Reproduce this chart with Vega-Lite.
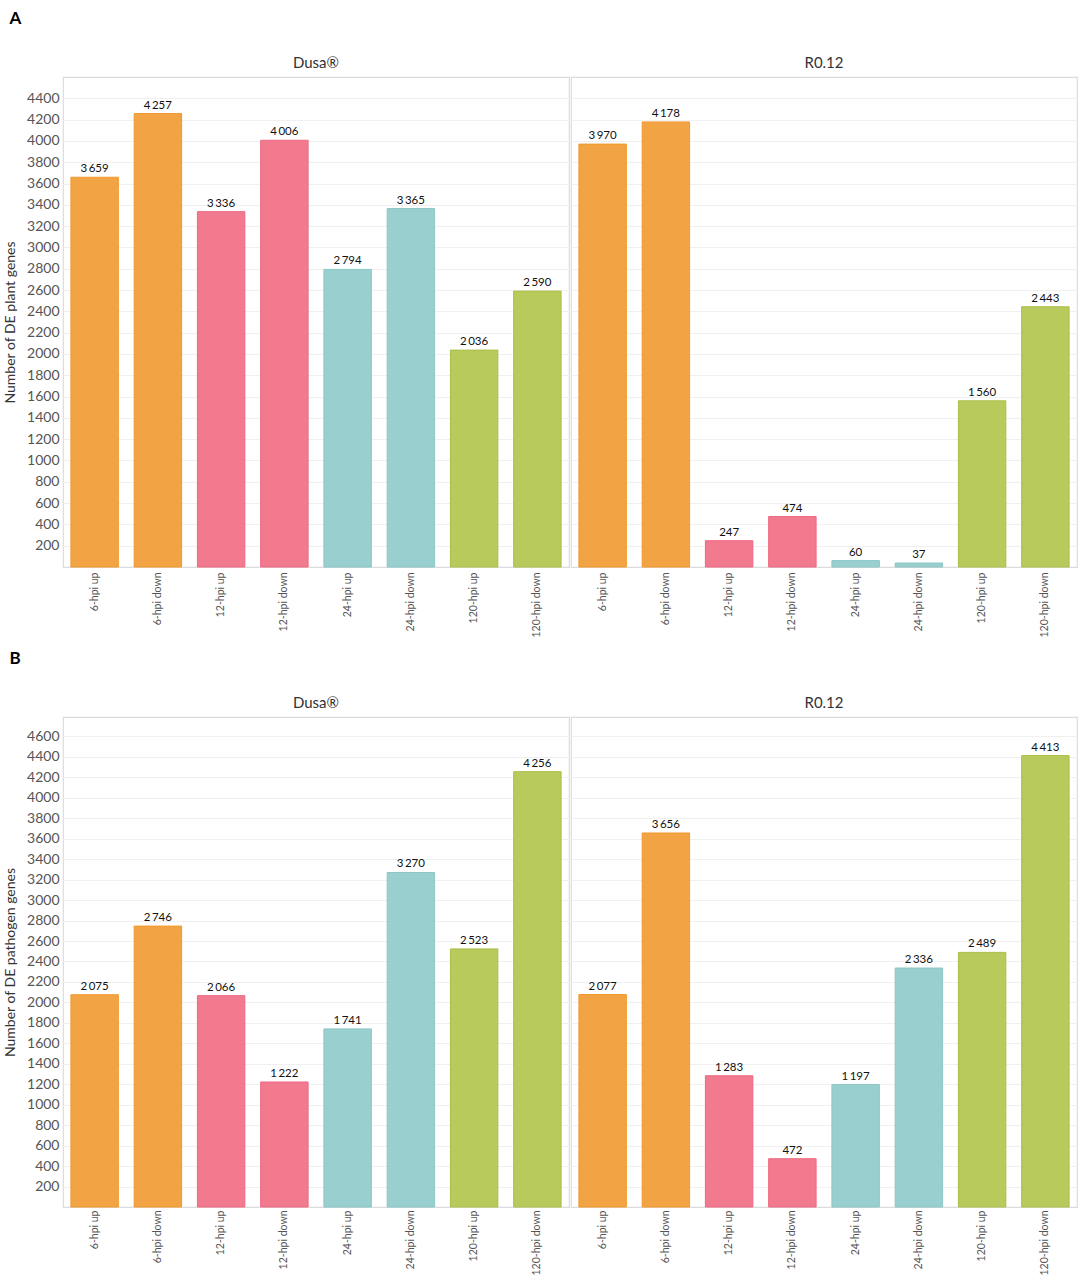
{
  "$schema": "https://vega.github.io/schema/vega-lite/v6.json",
  "padding": {"left": 3, "top": 10, "right": 5, "bottom": 0},
  "background": "white",
  "config": {
    "font": "Lato",
    "locale": {"number": {"decimal": ".", "thousands": "\u2009", "grouping": [3], "currency": ["", ""]}},
    "view": {"stroke": "#dcdcdc", "strokeWidth": 1.2},
    "facet": {"spacing": 0},
    "header": {"labelFontSize": 15, "labelColor": "#333", "labelPadding": 5, "labelFont": "Lato"},
    "axisY": {"labelFontSize": 14, "labelColor": "#555", "ticks": false, "domain": false, "gridColor": "#f0f0f0", "titleFontSize": 14, "titleFontWeight": "normal", "titleColor": "#333", "titlePadding": 9, "labelPadding": 3},
    "axisX": {"labelAngle": -90, "labelFontSize": 10.5, "labelColor": "#555", "ticks": false, "domain": false, "labelPadding": 5, "grid": false},
    "title": {"anchor": "start", "fontSize": 17, "fontWeight": "bold", "color": "#000", "frame": "bounds", "offset": 28, "dx": 6},
    "concat": {"spacing": 12}
  },
  "datasets": {
    "plant": [
      {"cultivar": "Dusa®", "sample": "6-hpi up", "time": "6-hpi", "genes": 3659},
      {"cultivar": "Dusa®", "sample": "6-hpi down", "time": "6-hpi", "genes": 4257},
      {"cultivar": "Dusa®", "sample": "12-hpi up", "time": "12-hpi", "genes": 3336},
      {"cultivar": "Dusa®", "sample": "12-hpi down", "time": "12-hpi", "genes": 4006},
      {"cultivar": "Dusa®", "sample": "24-hpi up", "time": "24-hpi", "genes": 2794},
      {"cultivar": "Dusa®", "sample": "24-hpi down", "time": "24-hpi", "genes": 3365},
      {"cultivar": "Dusa®", "sample": "120-hpi up", "time": "120-hpi", "genes": 2036},
      {"cultivar": "Dusa®", "sample": "120-hpi down", "time": "120-hpi", "genes": 2590},
      {"cultivar": "R0.12", "sample": "6-hpi up", "time": "6-hpi", "genes": 3970},
      {"cultivar": "R0.12", "sample": "6-hpi down", "time": "6-hpi", "genes": 4178},
      {"cultivar": "R0.12", "sample": "12-hpi up", "time": "12-hpi", "genes": 247},
      {"cultivar": "R0.12", "sample": "12-hpi down", "time": "12-hpi", "genes": 474},
      {"cultivar": "R0.12", "sample": "24-hpi up", "time": "24-hpi", "genes": 60},
      {"cultivar": "R0.12", "sample": "24-hpi down", "time": "24-hpi", "genes": 37},
      {"cultivar": "R0.12", "sample": "120-hpi up", "time": "120-hpi", "genes": 1560},
      {"cultivar": "R0.12", "sample": "120-hpi down", "time": "120-hpi", "genes": 2443}
    ],
    "pathogen": [
      {"cultivar": "Dusa®", "sample": "6-hpi up", "time": "6-hpi", "genes": 2075},
      {"cultivar": "Dusa®", "sample": "6-hpi down", "time": "6-hpi", "genes": 2746},
      {"cultivar": "Dusa®", "sample": "12-hpi up", "time": "12-hpi", "genes": 2066},
      {"cultivar": "Dusa®", "sample": "12-hpi down", "time": "12-hpi", "genes": 1222},
      {"cultivar": "Dusa®", "sample": "24-hpi up", "time": "24-hpi", "genes": 1741},
      {"cultivar": "Dusa®", "sample": "24-hpi down", "time": "24-hpi", "genes": 3270},
      {"cultivar": "Dusa®", "sample": "120-hpi up", "time": "120-hpi", "genes": 2523},
      {"cultivar": "Dusa®", "sample": "120-hpi down", "time": "120-hpi", "genes": 4256},
      {"cultivar": "R0.12", "sample": "6-hpi up", "time": "6-hpi", "genes": 2077},
      {"cultivar": "R0.12", "sample": "6-hpi down", "time": "6-hpi", "genes": 3656},
      {"cultivar": "R0.12", "sample": "12-hpi up", "time": "12-hpi", "genes": 1283},
      {"cultivar": "R0.12", "sample": "12-hpi down", "time": "12-hpi", "genes": 472},
      {"cultivar": "R0.12", "sample": "24-hpi up", "time": "24-hpi", "genes": 1197},
      {"cultivar": "R0.12", "sample": "24-hpi down", "time": "24-hpi", "genes": 2336},
      {"cultivar": "R0.12", "sample": "120-hpi up", "time": "120-hpi", "genes": 2489},
      {"cultivar": "R0.12", "sample": "120-hpi down", "time": "120-hpi", "genes": 4413}
    ]
  },
  "vconcat": [
    {
      "title": "A",
      "data": {"name": "plant"},
      "facet": {"column": {"field": "cultivar", "type": "nominal", "title": null, "sort": ["Dusa®", "R0.12"]}},
      "spec": {
        "width": 506,
        "height": 490,
        "encoding": {
          "x": {"field": "sample", "type": "nominal", "sort": null, "title": null, "scale": {"paddingInner": 0.25, "paddingOuter": 0.125}},
          "y": {"field": "genes", "type": "quantitative", "title": "Number of DE plant genes", "scale": {"domain": [0, 4600], "nice": false}, "axis": {"values": [200,400,600,800,1000,1200,1400,1600,1800,2000,2200,2400,2600,2800,3000,3200,3400,3600,3800,4000,4200,4400], "format": "d"}}
        },
        "layer": [
          {
            "mark": {"type": "bar", "strokeWidth": 1},
            "encoding": {
              "color": {"field": "time", "type": "nominal", "legend": null, "scale": {"domain": ["6-hpi", "12-hpi", "24-hpi", "120-hpi"], "range": ["#F2A444", "#F27A8E", "#99CFCF", "#B9CA5C"]}},
              "stroke": {"field": "time", "type": "nominal", "legend": null, "scale": {"domain": ["6-hpi", "12-hpi", "24-hpi", "120-hpi"], "range": ["#F0982C", "#EE6881", "#8CC6C6", "#AABF48"]}}
            }
          },
          {
            "mark": {"type": "text", "dy": -8, "fontSize": 11.5, "color": "#111"},
            "encoding": {"text": {"field": "genes", "type": "quantitative", "format": ",d"}}
          }
        ]
      },
      "resolve": {"scale": {"x": "independent"}}
    },
    {
      "title": "B",
      "data": {"name": "pathogen"},
      "facet": {"column": {"field": "cultivar", "type": "nominal", "title": null, "sort": ["Dusa®", "R0.12"]}},
      "spec": {
        "width": 506,
        "height": 490,
        "encoding": {
          "x": {"field": "sample", "type": "nominal", "sort": null, "title": null, "scale": {"paddingInner": 0.25, "paddingOuter": 0.125}, "axis": {"labelPadding": 3}},
          "y": {"field": "genes", "type": "quantitative", "title": "Number of DE pathogen genes", "scale": {"domain": [0, 4790], "nice": false}, "axis": {"values": [200,400,600,800,1000,1200,1400,1600,1800,2000,2200,2400,2600,2800,3000,3200,3400,3600,3800,4000,4200,4400,4600], "format": "d"}}
        },
        "layer": [
          {
            "mark": {"type": "bar", "strokeWidth": 1},
            "encoding": {
              "color": {"field": "time", "type": "nominal", "legend": null, "scale": {"domain": ["6-hpi", "12-hpi", "24-hpi", "120-hpi"], "range": ["#F2A444", "#F27A8E", "#99CFCF", "#B9CA5C"]}},
              "stroke": {"field": "time", "type": "nominal", "legend": null, "scale": {"domain": ["6-hpi", "12-hpi", "24-hpi", "120-hpi"], "range": ["#F0982C", "#EE6881", "#8CC6C6", "#AABF48"]}}
            }
          },
          {
            "mark": {"type": "text", "dy": -8, "fontSize": 11.5, "color": "#111"},
            "encoding": {"text": {"field": "genes", "type": "quantitative", "format": ",d"}}
          }
        ]
      },
      "resolve": {"scale": {"x": "independent"}}
    }
  ]
}
